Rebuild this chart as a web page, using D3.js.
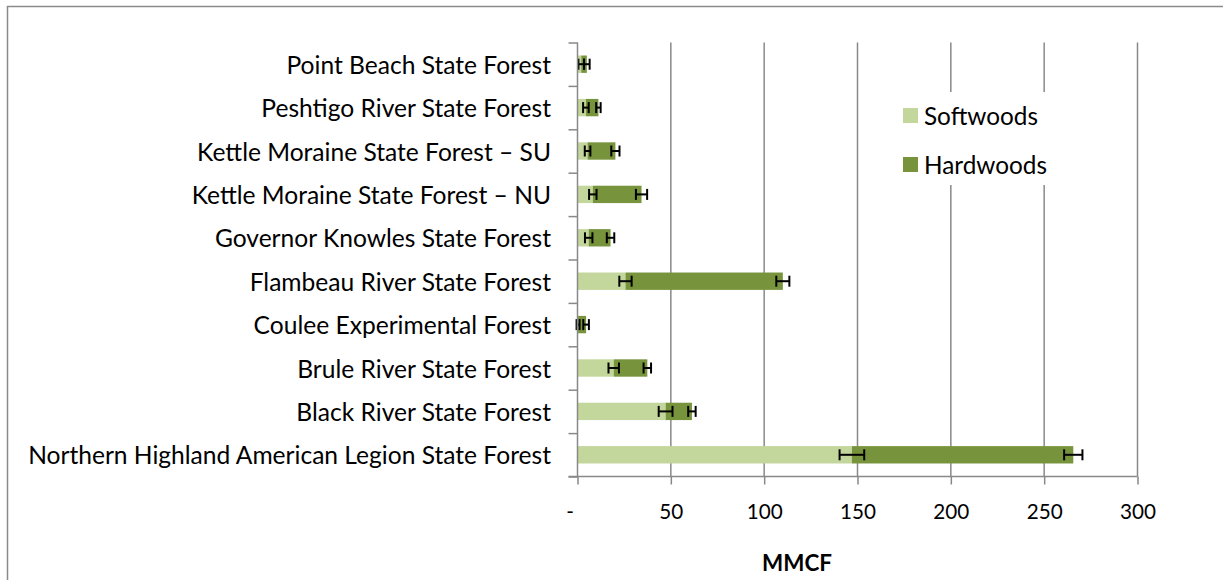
<!DOCTYPE html>
<html><head><meta charset="utf-8">
<script src="https://cdn.jsdelivr.net/npm/d3@7"></script>
<style>body{margin:0;background:#fff} svg{display:block} text{font-family: Lato, "Open Sans", sans-serif; fill:#000}</style>
</head><body><svg id="c" width="1223" height="580"></svg>
<script>
const categories = ["Point Beach State Forest","Peshtigo River State Forest","Kettle Moraine State Forest – SU","Kettle Moraine State Forest – NU","Governor Knowles State Forest","Flambeau River State Forest","Coulee Experimental Forest","Brule River State Forest","Black River State Forest","Northern Highland American Legion State Forest"];
const softwoods = [2, 4.5, 5.4, 8.2, 6, 25.7, 0.3, 19.4, 47.2, 147];
const hardwoods = [3, 6.7, 14.9, 26.1, 11.7, 84.3, 4.3, 18, 14.1, 118.6];
const softErr = [1.5, 1.5, 1.5, 2, 2, 3.3, 0.8, 2.8, 3.7, 6.6];
const hardErr = [1.5, 1.2, 2.2, 3, 2, 3.5, 1.5, 2, 2, 4.9];
const xTicks = [0,50,100,150,200,250,300];
const xTickLabels = ["-","50","100","150","200","250","300"];
const seriesNames = ["Softwoods","Hardwoods"];
const colors = ["#C3D69B","#77933C"];
const axisTitle = "MMCF";

(function(){
const W=1223,H=580;
const svg = d3.select("#c");
svg.append("rect").attr("width",W).attr("height",H).attr("fill","#fff");
svg.append("path").attr("d",`M7.5,${H+5}V6.5H${W+5}`).attr("fill","none").attr("stroke","#8a8a8a").attr("stroke-width",1.5);

const x = d3.scaleLinear().domain([0,300]).range([577.5,1137.5]);
const yTop=42.5,yBot=476.5;
const y = d3.scaleBand().domain(categories).range([yTop,yBot]).paddingInner(0.6).paddingOuter(0.3);
const yEdge = d3.scaleLinear().domain([0,categories.length]).range([yTop,yBot]);
const grey="#898989";

function fit(txt, target, base, weight){
  const t = svg.append("text").attr("font-size",base).attr("font-weight",weight||null).text(txt);
  const w = t.node().getComputedTextLength(); t.remove();
  return base*target/w;
}
const fsLabel = fit("Northern Highland American Legion State Forest",523,20);
const fsLegend = fit("Hardwoods",123,20);
const fsTick = fit("100",36,20);
const fsTitle = fit(axisTitle,70,20,"bold");

svg.append("g").selectAll("line").data(xTicks.slice(1)).join("line")
  .attr("x1",d=>x(d)).attr("x2",d=>x(d)).attr("y1",yTop).attr("y2",yBot)
  .attr("stroke",grey).attr("stroke-width",1.5);

const rows = categories.map((c,i)=>({c,s:softwoods[i],h:hardwoods[i],se:softErr[i],he:hardErr[i]}));
const gb = svg.append("g");
gb.selectAll("rect.s").data(rows).join("rect").attr("class","s")
  .attr("x",x(0)).attr("y",d=>y(d.c)).attr("height",y.bandwidth())
  .attr("width",d=>x(d.s)-x(0)).attr("fill",colors[0]);
gb.selectAll("rect.h").data(rows).join("rect").attr("class","h")
  .attr("x",d=>x(d.s)).attr("y",d=>y(d.c)).attr("height",y.bandwidth())
  .attr("width",d=>x(d.s+d.h)-x(d.s)).attr("fill",colors[1]);

function errbar(center, err, d){
  const cy = y(d.c)+y.bandwidth()/2, cap=5.5;
  const g = gb.append("g").attr("stroke","#000").attr("stroke-width",2);
  g.append("line").attr("x1",x(center-err)).attr("x2",x(center+err)).attr("y1",cy).attr("y2",cy);
  g.append("line").attr("x1",x(center-err)).attr("x2",x(center-err)).attr("y1",cy-cap).attr("y2",cy+cap);
  g.append("line").attr("x1",x(center+err)).attr("x2",x(center+err)).attr("y1",cy-cap).attr("y2",cy+cap);
}
rows.forEach(d=>{ errbar(d.s,d.se,d); errbar(d.s+d.h,d.he,d); });

const ya = svg.append("g").attr("transform",`translate(${x(0)},0)`)
  .call(d3.axisLeft(yEdge).ticks(categories.length).tickSize(9).tickFormat(""));
ya.select(".domain").attr("stroke",grey).attr("stroke-width",1.5).attr("d",`M0,${yTop}V${yBot}`);
ya.selectAll(".tick line").attr("stroke",grey).attr("stroke-width",1.5);

const xa = svg.append("g").attr("transform",`translate(0,${yBot})`)
  .call(d3.axisBottom(x).tickValues(xTicks).tickSize(8).tickSizeOuter(0).tickFormat((d,i)=>xTickLabels[i]));
xa.select(".domain").attr("stroke",grey).attr("stroke-width",1.5).attr("d",`M${x(0)-9},0H${x(300)}`);
xa.selectAll(".tick line").attr("stroke",grey).attr("stroke-width",1.5);
xa.selectAll(".tick text").attr("font-size",fsTick).attr("font-family","Lato, 'Open Sans', sans-serif").attr("fill","#000").attr("y",28)
  .attr("dx",(d)=>d===0?-8:0);

svg.append("g").selectAll("text").data(categories).join("text")
  .attr("x",551).attr("y",d=>y(d)+y.bandwidth()/2).attr("text-anchor","end")
  .attr("dominant-baseline","central").attr("font-size",fsLabel).text(d=>d);

svg.append("text").attr("x",797).attr("y",562).attr("text-anchor","middle").attr("dominant-baseline","central")
  .attr("font-weight","bold").attr("font-size",fsTitle).text(axisTitle);

const lg = svg.append("g");
lg.append("rect").attr("x",890).attr("y",92).attr("width",170).attr("height",93).attr("fill","#fff");
seriesNames.forEach((n,i)=>{
  const cy = 115.5 + i*49;
  lg.append("rect").attr("x",903).attr("y",cy-7.5).attr("width",15).attr("height",15).attr("fill",colors[i]);
  lg.append("text").attr("x",924).attr("y",cy).attr("dominant-baseline","central").attr("font-size",fsLegend).text(n);
});
})();
</script></body></html>
